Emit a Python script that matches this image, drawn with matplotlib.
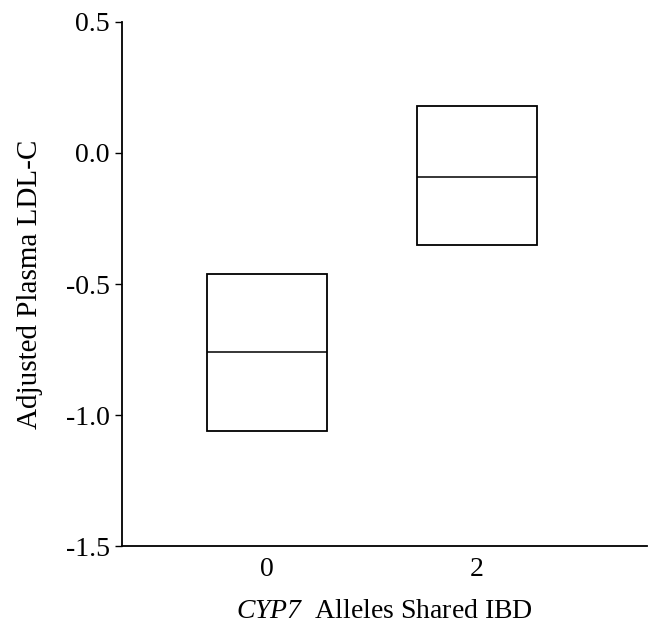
import matplotlib.pyplot as plt

plt.rcParams['font.family'] = ['Liberation Serif', 'DejaVu Serif']
plt.rcParams['mathtext.fontset'] = 'custom'
plt.rcParams['mathtext.rm'] = 'Liberation Serif:italic'
plt.rcParams['mathtext.it'] = 'Liberation Serif:italic'

# alleles shared IBD and the box statistics
groups = [0, 2]
box_top = [-0.46, 0.18]
box_mid = [-0.76, -0.09]
box_bot = [-1.06, -0.35]
yticks = [0.5, 0.0, -0.5, -1.0, -1.5]

fig = plt.figure(figsize=(6.49, 6.27), dpi=100)
ax = fig.add_axes([0.188, 0.129, 0.809, 0.836])

width = 1.14
heights = [t - b for t, b in zip(box_top, box_bot)]
ax.bar(groups, heights, bottom=box_bot, width=width, fill=False,
       edgecolor='black', linewidth=1.3)
for g, m in zip(groups, box_mid):
    ax.hlines(m, g - width / 2, g + width / 2, color='black', linewidth=1.1)

ax.set_ylim(-1.5, 0.5)
ax.set_xlim(-1.38, 3.62)
ax.set_yticks(yticks)
ax.set_yticklabels(['%.1f' % v for v in yticks])
ax.set_xticks(groups)
ax.set_xticklabels([str(g) for g in groups])

for s in ['top', 'right']:
    ax.spines[s].set_visible(False)
for s in ['left', 'bottom']:
    ax.spines[s].set_linewidth(1.3)

ax.tick_params(axis='y', length=5, width=1.0, labelsize=20, pad=4)
ax.tick_params(axis='x', length=0, labelsize=20, pad=8)

ax.set_ylabel('Adjusted Plasma LDL-C', fontsize=21, labelpad=16)
ax.set_xlabel(r'$CYP7$  Alleles Shared IBD', fontsize=20, labelpad=12)

fig.savefig('out.png', dpi=100)
